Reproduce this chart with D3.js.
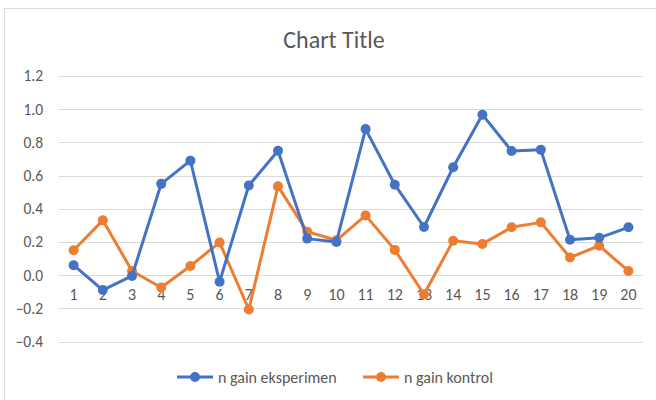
<!DOCTYPE html>
<html>
<head>
<meta charset="utf-8">
<script src="https://cdn.jsdelivr.net/npm/d3@7"></script>
<style>
  body { margin: 0; background: #fff; }
  svg text { font-family: Carlito, Lato, "Open Sans", sans-serif; fill: #595959; }
</style>
</head>
<body>
<div class="visHolder"></div>
<script>
const categories = ["1","2","3","4","5","6","7","8","9","10","11","12","13","14","15","16","17","18","19","20"];
const eksperimen = [0.06,-0.09,-0.005,0.55,0.69,-0.04,0.54,0.75,0.22,0.20,0.88,0.545,0.29,0.65,0.967,0.748,0.755,0.213,0.225,0.288];
const kontrol = [0.15,0.33,0.025,-0.075,0.055,0.197,-0.207,0.535,0.262,0.21,0.36,0.152,-0.115,0.207,0.188,0.288,0.318,0.106,0.177,0.025];
const yTicks = [-0.4,-0.2,0.0,0.2,0.4,0.6,0.8,1.0,1.2];
const seriesNames = ["n gain eksperimen", "n gain kontrol"];
const colors = ["#4472C4", "#ED7D31"];

const width = 656, height = 400;
const plotLeft = 59, plotRight = 643, plotTop = 76, plotBottom = 341.5;

const svg = d3.select(".visHolder")
  .append("svg")
  .attr("width", width)
  .attr("height", height);

// chart area border (only top/left are inside the picture)
svg.append("rect")
  .attr("x", 4.5).attr("y", 8.5)
  .attr("width", 700).attr("height", 450)
  .attr("fill", "none")
  .attr("stroke", "#d9d9d9");

svg.append("text")
  .attr("x", 334).attr("y", 48)
  .attr("text-anchor", "middle")
  .style("font-size", "24px")
  .text("Chart Title");

const xScale = d3.scaleBand()
  .domain(categories)
  .range([plotLeft, plotRight]);

const yScale = d3.scaleLinear()
  .domain([-0.4, 1.2])
  .range([plotBottom, plotTop]);

// gridlines
svg.append("g")
  .selectAll("line").data(yTicks).enter()
  .append("line")
  .attr("x1", plotLeft).attr("x2", plotRight)
  .attr("y1", d => Math.round(yScale(d)) + 0.5)
  .attr("y2", d => Math.round(yScale(d)) + 0.5)
  .attr("stroke", "#d9d9d9")
  .attr("stroke-width", 1);

// y labels
var yAxis = d3.axisLeft(yScale).tickValues(yTicks).tickSize(0).tickPadding(16).tickFormat(d3.format(".1f"));
svg.append("g")
  .attr("transform", "translate(" + plotLeft + ",0)")
  .call(yAxis)
  .call(g => g.select(".domain").remove())
  .call(g => g.attr("font-family", null).attr("font-size", null))
  .selectAll("text")
  .style("font-size", "15.5px")
  .attr("fill", null);

// category labels sit under the zero line
var xAxis = d3.axisBottom(xScale).tickSize(0).tickPadding(14);
svg.append("g")
  .attr("transform", "translate(0," + yScale(0) + ")")
  .call(xAxis)
  .call(g => g.select(".domain").remove())
  .call(g => g.attr("font-family", null).attr("font-size", null))
  .selectAll("text")
  .style("font-size", "16px")
  .attr("fill", null);

const line = d3.line()
  .x((d, i) => xScale(categories[i]) + xScale.bandwidth() / 2)
  .y(d => yScale(d));

[kontrol, eksperimen].forEach((data) => {
  const c = data === eksperimen ? colors[0] : colors[1];
  const g = svg.append("g");
  g.append("path")
    .datum(data)
    .attr("d", line)
    .attr("fill", "none")
    .attr("stroke", c)
    .attr("stroke-width", 3)
    .attr("stroke-linejoin", "round");
  g.selectAll("circle").data(data).enter()
    .append("circle")
    .attr("cx", (d, i) => xScale(categories[i]) + xScale.bandwidth() / 2)
    .attr("cy", d => yScale(d))
    .attr("r", 5)
    .attr("fill", c);
});

// legend
const legendX = [177, 363];
const legend = svg.append("g");
seriesNames.forEach((name, i) => {
  const x0 = legendX[i], yL = 377;
  legend.append("line")
    .attr("x1", x0).attr("x2", x0 + 36)
    .attr("y1", yL).attr("y2", yL)
    .attr("stroke", colors[i]).attr("stroke-width", 3);
  legend.append("circle")
    .attr("cx", x0 + 18).attr("cy", yL).attr("r", 5)
    .attr("fill", colors[i]);
  legend.append("text")
    .attr("x", x0 + 41).attr("y", yL + 5.5)
    .style("font-size", "16px")
    .text(name);
});
</script>
</body>
</html>
